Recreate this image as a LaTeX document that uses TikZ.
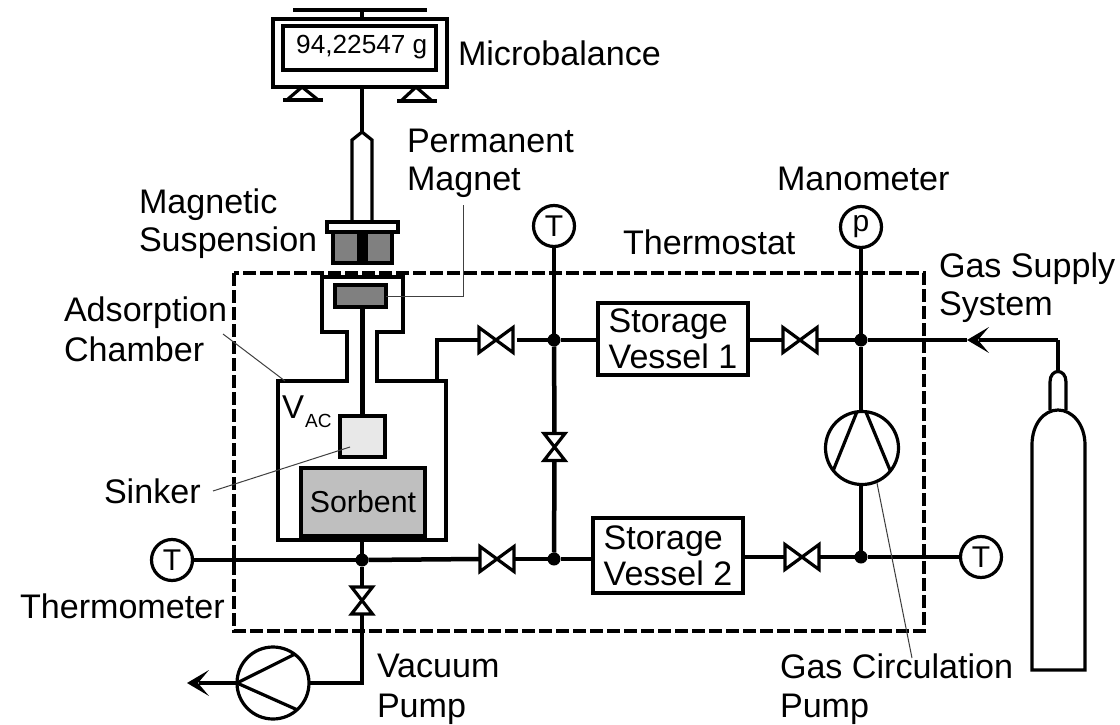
\documentclass[tikz,border=0pt]{standalone}
\usepackage{fontspec}
\setmainfont{Liberation Sans}
\tikzset{
  x=1pt,y=-1pt,
  pipe/.style={line width=3.2pt,line join=miter},
  thick pipe/.style={line width=4.5pt},
  wall/.style={line width=3.2pt,line join=miter},
  blade/.style={line width=3.2pt},
  leader/.style={line width=1pt,draw=black!75},
  label/.style={anchor=base west,inner sep=0,outer sep=0,font=\fontsize{34.1}{38}\selectfont,align=left},
  vessel/.style={draw,line width=3.2pt,inner sep=0,outer sep=0,font=\fontsize{34}{36}\selectfont,align=left},
  gauge/.style={circle,draw,line width=3.2pt,minimum size=41pt,inner sep=0,outer sep=0,font=\fontsize{30}{30}\selectfont},
  pump/.style={circle,draw,line width=3.2pt,minimum size=72pt,inner sep=0,outer sep=0},
  junction/.style={circle,fill=black,minimum size=13pt,inner sep=0,outer sep=0},
  box/.style={draw,line width=3.2pt,inner sep=0,outer sep=0}
}
\newcommand{\valveh}[3]{\node[minimum width=34pt,minimum height=25pt,inner sep=0,outer sep=0] (#1) at (#2,#3) {};
  \draw[wall] (#1.north west) -- (#1.south east) -- (#1.north east) -- (#1.south west) -- cycle;}
\newcommand{\valvev}[3]{\node[minimum width=21pt,minimum height=27pt,inner sep=0,outer sep=0] (#1) at (#2,#3) {};
  \draw[wall] (#1.north west) -- (#1.north east) -- (#1.south west) -- (#1.south east) -- cycle;}
\newcommand{\headat}[1]{\fill ([shift={(22,-13)}]#1) -- (#1) -- ([shift={(22,13)}]#1) -- ([shift={(11,0)}]#1) -- cycle;}
\begin{document}
\begin{tikzpicture}
\useasboundingbox (0,0) rectangle (1120,725);
\fill[white] (0,0) rectangle (1120,725);
% thermostat
\draw[line width=4pt,dash pattern=on 13pt off 4pt] (234,273) rectangle (924,631);
% balance
\node[box,minimum width=174pt,minimum height=68pt] (bal) at (360,53) {};
\node[box,minimum width=153pt,minimum height=44pt] (disp) at (359.5,48) {};
\node[anchor=base west,inner sep=0,font=\fontsize{26.2}{30}\selectfont] (val) at (296,54) {94,22547 g};
\coordinate (pan) at (362,10);
\draw[line width=4.5pt] (293,10) -- (427,10);
\draw[line width=3.2pt] (pan) -- (pan |- bal.north);
\draw[wall] (288,99) -- (302,87) -- (317,99);
\draw[line width=4.5pt] (283,100) -- (323,100);
\draw[wall] (402,100) -- (416,87) -- (431,100);
\draw[line width=4.5pt] (397,101) -- (437,101);
% suspension
\coordinate (hook) at (362,132);
\draw[line width=3.2pt] (362,87) -- (hook);
\draw[wall] (352,222) -- (352,140) -- (hook) -- (372,140) -- (372,222);
\node[box,minimum width=71pt,minimum height=10pt] (cap) at (362.5,227) {};
\node[box,fill=black!50,minimum width=59pt,minimum height=31pt] (mag) at (362.5,247.5) {};
\fill (357,232) rectangle (368,263);
% chamber
\draw[wall] (322,332) -- (322,277) -- (403,277) -- (403,332) -- (377,332) -- (377,381) -- (446,381) -- (446,540) -- (278,540) -- (278,381) -- (347,381) -- (347,332) -- cycle;
\node[box,fill=black!50,minimum width=51pt,minimum height=22pt] (pm) at (360.5,296) {};
\node[box,fill=black!9,minimum width=45pt,minimum height=41pt] (sink) at (362.5,436.5) {};
\node[box,fill=black!25,minimum width=124pt,minimum height=68pt,font=\fontsize{30.3}{30}\selectfont] (sorb) at (363,502) {Sorbent};
\draw[line width=4.5pt] (pm.south -| sink.north) -- (sink.north);
\node[anchor=base west,inner sep=0,font=\fontsize{33}{33}\selectfont] (vlab) at (282,418) {V};
\node[anchor=base west,inner sep=0,font=\fontsize{19}{19}\selectfont] (aclab) at (305,427) {AC};
% nodes
\node[gauge] (tl) at (172,560) {T};
\node[gauge] (tt) at (554,226) {T};
\node[gauge] (pp) at (861,227) {p};
\node[gauge] (tr) at (981,557) {T};
\node[junction] (j1) at (362,560) {};
\node[junction] (j2) at (554,340) {};
\node[junction] (j3) at (554,559) {};
\node[junction] (j4) at (861,340) {};
\node[junction] (j5) at (861,557) {};
\coordinate (cb) at (362,540);
\coordinate (co) at (437,381);
\coordinate (cc) at (437,340);
\node[vessel,minimum width=150pt,minimum height=72pt] (v1) at (673,339) {Storage\\Vessel 1};
\node[vessel,minimum width=150pt,minimum height=75pt] (v2) at (668,555.5) {Storage\\Vessel 2};
\valveh{va}{496}{340}
\valveh{vb}{497}{559}
\valveh{vc}{800}{340}
\valveh{vd}{802}{557}
\valvev{ve}{554.5}{447}
\valvev{vf}{362}{600.5}
\node[pump] (vp) at (273,683) {};
\draw[blade] (vp.180) -- (vp.53);
\draw[blade] (vp.180) -- (vp.-48);
\node[pump,minimum size=73pt] (gp) at (862,448) {};
\draw[blade] (gp.98) -- (gp.218);
\draw[blade] (gp.84) -- (gp.-39);
% pipes
\draw[thick pipe] (tl) -- (j1);
\draw[thick pipe] (j1) -- (vb.west);
\draw[pipe] (vb.east) -- (j3);
\draw[pipe] (j3) -- (j3 -| v2.west);
\draw[pipe] (cb) -- (j1);
\draw[pipe] (j1) -- (vf.north);
\draw[pipe] (vf.south) |- (vp.east);
\draw[pipe] (co) -- (cc) -- (va.west);
\draw[pipe] ([xshift=4pt]va.east) -- (j2);
\draw[pipe] (j2) -- (j2 -| v1.west);
\draw[pipe] (tt) -- (j2);
\draw[thick pipe] (j2) -- (ve.north);
\draw[thick pipe] (ve.south) -- (j3);
\draw[thick pipe] (v1.east |- vc.west) -- (vc.west);
\draw[thick pipe] (v2.east |- vd.west) -- (vd.west);
\draw[pipe] (vc.east) -- (j4);
\draw[thick pipe] (pp) -- (j4);
\draw[pipe] (j4) -- (gp.north -| j4);
\draw[thick pipe] (gp.south -| j5) -- (j5);
\draw[pipe] (vd.east) -- (j5);
\draw[thick pipe] (j5) -- (tr);
% vacuum outlet
\coordinate (vout) at (187,683);
\draw[thick pipe] (vp.west) -- ([xshift=12pt]vout);
\headat{vout}
% gas supply
\coordinate (neck) at (1058,372);
\coordinate (corner) at (1058,340);
\coordinate (gtip) at (967,340);
\draw[pipe] (j4) -- (gtip);
\draw[thick pipe] (corner) -- ([xshift=12pt]gtip);
\headat{gtip}
\draw[thick pipe] (neck) -- (corner);
\draw[wall] (1032,445) .. controls (1032,424) and (1044,410) .. (1058,410) .. controls (1072,410) and (1085,424) .. (1085,445) -- (1085,670) -- (1032,670) -- cycle;
\draw[wall] (1050,410) -- (1050,382) .. controls (1050,368) and (1066,368) .. (1066,382) -- (1066,410);
% leaders
\coordinate (lpm) at (463,205);
\draw[leader] (pm.east) -- (lpm |- pm.east) -- (lpm);
\coordinate (lad) at (223,334);
\coordinate (lad2) at (285,381);
\draw[leader] (lad) -- (lad2);
\coordinate (lsi) at (213,491);
\coordinate (lsi2) at (350,447);
\draw[leader] (lsi) -- (lsi2);
\coordinate (lgc) at (912,658);
\coordinate (lgc2) at (877,483);
\draw[leader] (lgc) -- (lgc2);
% labels
\node[label] (lb1) at (458,66) {Microbalance};
\node[label] (lb2) at (407,152) {Permanent};
\node[label] (lb3) at (407,190) {Magnet};
\node[label] (lb4) at (139,213) {Magnetic};
\node[label] (lb5) at (139,251) {Suspension};
\node[label] (lb6) at (64,321) {Adsorption};
\node[label] (lb7) at (64,361) {Chamber};
\node[label] (lb8) at (104,503) {Sinker};
\node[label] (lb9) at (20,618) {Thermometer};
\node[label] (lb10) at (377,677) {Vacuum};
\node[label] (lb11) at (377,717) {Pump};
\node[label] (lb12) at (623,254) {Thermostat};
\node[label] (lb13) at (777,190) {Manometer};
\node[label] (lb14) at (939,277) {Gas Supply};
\node[label] (lb15) at (939,315) {System};
\node[label] (lb16) at (780,678) {Gas Circulation};
\node[label] (lb17) at (780,717) {Pump};
\end{tikzpicture}
\end{document}
